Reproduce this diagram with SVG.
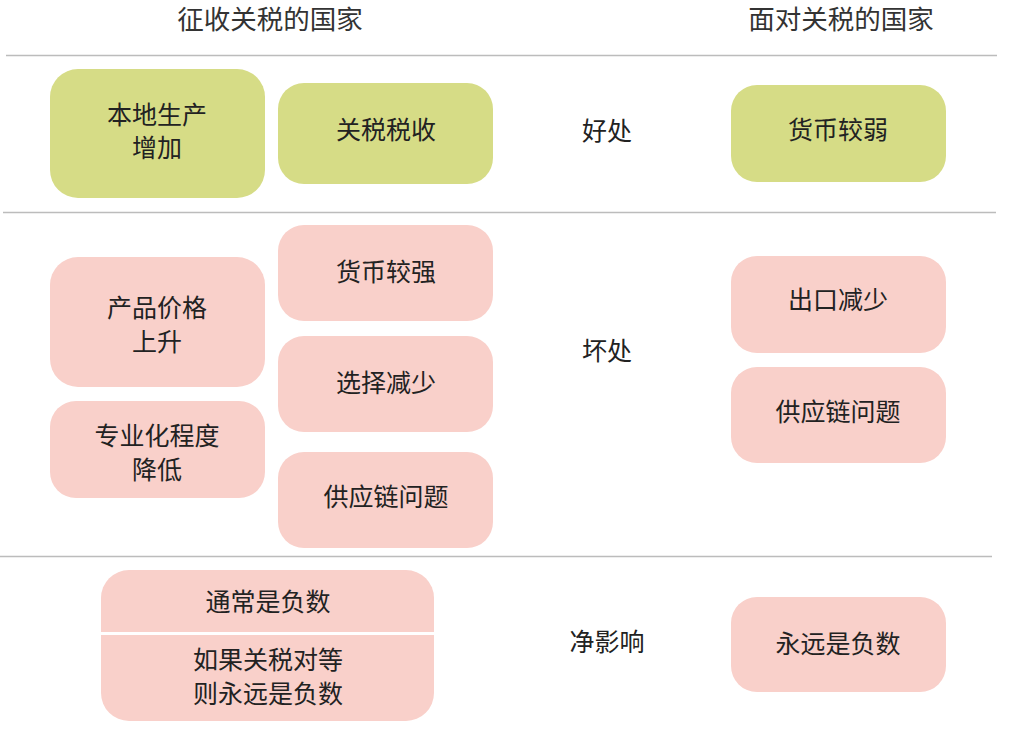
<svg xmlns="http://www.w3.org/2000/svg" width="1011" height="732" viewBox="0 0 1011 732">
<style>
text{font-family:"Noto Sans CJK SC","Noto Sans",sans-serif;fill:#222;text-anchor:middle}
.h{font-size:26.5px;fill:#333}
.t{font-size:25px}
.g{fill:#d6dc86}
.p{fill:#f9d0ca}
.sep{stroke:#bcbcbc;stroke-width:1.5}
</style>
<rect width="1011" height="732" fill="#fff"/>
<text class="h" x="270" y="29">征收关税的国家</text>
<text class="h" x="841" y="29">面对关税的国家</text>
<g id="separators">
<line class="sep" x1="6" y1="55.5" x2="997" y2="55.5"/>
<line class="sep" x1="3" y1="212.5" x2="996" y2="212.5"/>
<line class="sep" x1="0" y1="556.5" x2="992" y2="556.5"/>
</g>
<text class="t" x="607" y="140">好处</text>
<text class="t" x="607" y="360">坏处</text>
<text class="t" x="607" y="651">净影响</text>
<g id="n1"><rect class="g" x="50" y="69" width="215" height="129" rx="28"/><text class="t" x="157" y="124">本地生产<tspan x="157" dy="33">增加</tspan></text></g>
<g id="n2"><rect class="g" x="278" y="83" width="215" height="101" rx="26"/><text class="t" x="386" y="139">关税税收</text></g>
<g id="n3"><rect class="g" x="731" y="85" width="215" height="97" rx="26"/><text class="t" x="838" y="139">货币较弱</text></g>
<g id="n4"><rect class="p" x="50" y="257" width="215" height="130" rx="28"/><text class="t" x="157" y="317">产品价格<tspan x="157" dy="34">上升</tspan></text></g>
<g id="n5"><rect class="p" x="50" y="401" width="215" height="97" rx="26"/><text class="t" x="157" y="445">专业化程度<tspan x="157" dy="33.5">降低</tspan></text></g>
<g id="n6"><rect class="p" x="278" y="225" width="215" height="96" rx="26"/><text class="t" x="386" y="281">货币较强</text></g>
<g id="n7"><rect class="p" x="278" y="336" width="215" height="96" rx="26"/><text class="t" x="386" y="392">选择减少</text></g>
<g id="n8"><rect class="p" x="278" y="452" width="215" height="96" rx="26"/><text class="t" x="386" y="506">供应链问题</text></g>
<g id="n9"><rect class="p" x="731" y="256" width="215" height="97" rx="26"/><text class="t" x="838" y="309">出口减少</text></g>
<g id="n10"><rect class="p" x="731" y="367" width="215" height="96" rx="26"/><text class="t" x="838" y="421">供应链问题</text></g>
<g id="n11"><rect class="p" x="731" y="597" width="215" height="95" rx="26"/><text class="t" x="838" y="653">永远是负数</text></g>
<g id="n12"><rect class="p" x="101" y="570" width="333" height="151" rx="28"/><rect x="101" y="632" width="333" height="3" fill="#fff"/><text class="t" x="268" y="611">通常是负数</text><text class="t" x="268" y="669">如果关税对等<tspan x="268" dy="33.5">则永远是负数</tspan></text></g>
<g id="connectors"></g>
</svg>
